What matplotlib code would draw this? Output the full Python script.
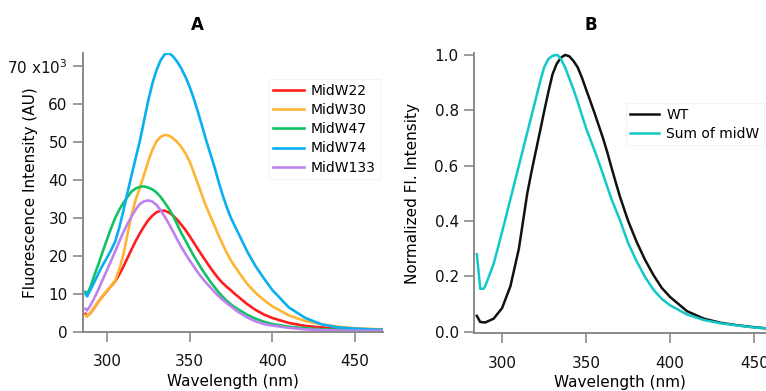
import matplotlib
matplotlib.use("Agg")
import matplotlib.pyplot as plt

plt.rcParams['font.family'] = ['DejaVu Sans']

# ---------------- Panel A data ----------------
wl_a = [287, 288, 290, 292.5, 295, 297.5, 300, 302.5, 305, 307.5, 310, 312.5, 315, 317.5,
        320, 322.5, 325, 327.5, 330, 332.5, 335, 337.5, 340, 342.5, 345, 347.5, 350, 352.5,
        355, 357.5, 360, 362.5, 365, 367.5, 370, 372.5, 375, 377.5, 380, 385, 390, 395, 400,
        410, 420, 430, 440, 450, 460, 467]
midw22 = [4.7, 4.1, 4.9, 6.4, 8.0, 9.4, 10.7, 12.0, 13.3, 15.1, 17.2, 19.5, 21.8, 24.0,
          26.0, 27.8, 29.4, 30.6, 31.5, 31.9, 31.9, 31.4, 30.6, 29.5, 28.2, 26.8, 25.2, 23.5,
          21.8, 20.1, 18.5, 16.9, 15.4, 14.0, 12.8, 11.8, 10.9, 9.9, 9.0, 7.2, 5.7, 4.5, 3.6,
          2.3, 1.5, 1.1, 0.8, 0.6, 0.5, 0.4]
midw30 = [4.3, 4.0, 5.0, 6.5, 8.0, 9.5, 10.8, 12.0, 13.5, 16.5, 20.5, 25.8, 31.0, 35.0,
          38.0, 41.5, 45.0, 48.0, 50.2, 51.4, 51.9, 51.7, 51.0, 50.0, 48.7, 47.0, 44.9, 42.0,
          39.0, 36.0, 33.0, 30.5, 28.0, 25.4, 23.0, 20.8, 18.8, 17.1, 15.5, 12.5, 10.2, 8.3, 6.7,
          4.3, 2.8, 1.9, 1.3, 0.9, 0.7, 0.6]
midw47 = [10.5, 9.8, 11.8, 15.0, 18.0, 21.2, 24.3, 27.3, 30.0, 32.2, 34.0, 35.6, 37.0, 37.8,
          38.2, 38.3, 38.0, 37.5, 36.7, 35.5, 34.0, 32.4, 30.5, 28.3, 26.0, 24.0, 22.0, 20.0,
          18.2, 16.4, 14.8, 13.2, 11.8, 10.4, 9.2, 8.1, 7.2, 6.4, 5.7, 4.4, 3.4, 2.6, 2.0,
          1.3, 0.9, 0.6, 0.5, 0.4, 0.3, 0.3]
midw74 = [10.0, 9.3, 11.0, 13.2, 15.5, 17.6, 19.5, 21.5, 23.8, 27.5, 32.0, 36.8, 41.5, 46.0,
          50.5, 55.8, 61.0, 65.5, 69.0, 71.6, 73.2, 73.5, 72.6, 71.2, 69.4, 67.2, 64.6, 61.5,
          58.0, 54.3, 50.5, 47.0, 43.5, 39.6, 36.0, 32.8, 30.0, 27.7, 25.5, 21.0, 17.2, 14.0, 11.0,
          6.4, 3.6, 1.9, 1.1, 0.8, 0.6, 0.5]
midw133 = [6.0, 5.6, 6.9, 9.0, 11.3, 13.8, 16.2, 18.7, 21.2, 23.8, 26.3, 28.5, 30.5, 32.3,
           33.7, 34.4, 34.6, 34.3, 33.4, 32.0, 30.3, 28.4, 26.4, 24.3, 22.3, 20.5, 18.8, 17.2,
           15.6, 14.2, 12.9, 11.7, 10.5, 9.4, 8.4, 7.5, 6.7, 5.8, 5.0, 3.7, 2.7, 2.0, 1.6,
           1.0, 0.6, 0.4, 0.3, 0.2, 0.2, 0.2]
series_a = [("MidW22", midw22, "#FF1E1E"),
            ("MidW30", midw30, "#FFB534"),
            ("MidW47", midw47, "#12C264"),
            ("MidW74", midw74, "#0AAFEF"),
            ("MidW133", midw133, "#BE82EE")]
xticks_a = [300, 350, 400, 450]
yticks_a = [0, 10, 20, 30, 40, 50, 60, 70]
yticklabels_a = ["0", "10", "20", "30", "40", "50", "60", r"70 x10$^{3}$"]

# ---------------- Panel B data ----------------
wl_wt = [285, 287, 290, 295, 300, 305, 310, 312.5, 315, 317.5, 320, 322.5, 325, 327.5, 330,
         332.5, 335, 337.5, 340, 342.5, 345, 347.5, 350, 352.5, 355, 357.5, 360, 362.5, 365,
         367.5, 370, 372.5, 375, 380, 385, 390, 395, 400, 410, 420, 430, 440, 450, 457]
wt = [0.057, 0.035, 0.033, 0.047, 0.085, 0.165, 0.30, 0.40, 0.50, 0.578, 0.65, 0.722, 0.795,
      0.865, 0.93, 0.968, 0.99, 1.0, 0.995, 0.978, 0.955, 0.918, 0.875, 0.833, 0.79, 0.745,
      0.70, 0.65, 0.595, 0.542, 0.49, 0.445, 0.40, 0.325, 0.26, 0.205, 0.158, 0.125, 0.074,
      0.047, 0.032, 0.023, 0.016, 0.012]
wl_sum = [285, 287, 289, 290, 295, 300, 305, 310, 315, 320, 322.5, 325, 327.5, 330, 333, 335,
          337.5, 340, 342.5, 345, 347.5, 350, 355, 360, 365, 370, 375, 380, 385, 390, 395, 400,
          410, 420, 430, 440, 450, 457]
sum_midw = [0.28, 0.155, 0.155, 0.165, 0.245, 0.36, 0.48, 0.60, 0.72, 0.84, 0.90, 0.955,
            0.985, 0.997, 1.0, 0.985, 0.955, 0.915, 0.875, 0.83, 0.782, 0.735, 0.655, 0.57,
            0.48, 0.405, 0.32, 0.255, 0.198, 0.152, 0.118, 0.095, 0.062, 0.042, 0.030, 0.022,
            0.015, 0.012]
xticks_b = [300, 350, 400, 450]
yticks_b = [0.0, 0.2, 0.4, 0.6, 0.8, 1.0]

W, H = 766, 391
fig = plt.figure(figsize=(W / 100, H / 100), dpi=100)

def px_axes(left, top, right, bottom):
    return fig.add_axes([left / W, 1 - bottom / H, (right - left) / W, (bottom - top) / H])

spine_col = "#8a8a8a"

def style(ax):
    for s in ["top", "right"]:
        ax.spines[s].set_visible(False)
    for s in ["left", "bottom"]:
        ax.spines[s].set_color(spine_col)
        ax.spines[s].set_linewidth(1.4)
    ax.tick_params(direction="out", length=7, width=1.2, color=spine_col,
                   labelsize=11, labelcolor="#111111")
    ax.tick_params(axis="x", pad=9)
    ax.tick_params(axis="y", pad=4)

axA = px_axes(83, 53, 383, 332)
for name, vals, col in series_a:
    axA.plot(wl_a, vals, color=col, lw=1.9, label=name)
axA.set_xlim(285.5, 467)
axA.set_ylim(-0.1, 73.5)
axA.set_xticks(xticks_a)
axA.set_yticks(yticks_a)
axA.set_yticklabels(yticklabels_a)
style(axA)
axA.set_xlabel("Wavelength (nm)", fontsize=11)
axA.xaxis.set_label_coords(0.5, -0.15)
axA.set_ylabel("Fluorescence Intensity (AU)", fontsize=11)
axA.yaxis.set_label_coords(-0.15, 0.5)
legA = axA.legend(loc="upper left", bbox_to_anchor=(0.597, 0.93), fontsize=10,
                  handlelength=2.2, handletextpad=0.5, labelspacing=0.38,
                  borderpad=0.3, frameon=True, fancybox=False)
legA.get_frame().set_edgecolor("#f2f2f2")
legA.get_frame().set_linewidth(0.8)

axB = px_axes(474, 53, 766, 333.3)
axB.plot(wl_wt, wt, color="#111111", lw=1.8, label="WT")
axB.plot(wl_sum, sum_midw, color="#12C8C8", lw=1.8, label="Sum of midW")
axB.set_xlim(283.3, 457)
axB.set_ylim(-0.006, 1.007)
axB.set_xticks(xticks_b)
axB.set_yticks(yticks_b)
axB.set_yticklabels([f"{v:.1f}" for v in yticks_b])
style(axB)
axB.set_xlabel("Wavelength (nm)", fontsize=11)
axB.xaxis.set_label_coords(0.5, -0.15)
axB.set_ylabel("Normalized Fl. Intensity", fontsize=11)
axB.yaxis.set_label_coords(-0.185, 0.5)
legB = axB.legend(loc="upper left", bbox_to_anchor=(0.497, 0.845), fontsize=10,
                  handlelength=2.1, handletextpad=0.5, labelspacing=0.38,
                  borderpad=0.3, frameon=True, fancybox=False)
legB.get_frame().set_edgecolor("#f2f2f2")
legB.get_frame().set_linewidth(0.8)

fig.text(197 / W, 1 - 25 / H, "A", fontsize=12, fontweight="bold", ha="center", va="center")
fig.text(591 / W, 1 - 25 / H, "B", fontsize=12, fontweight="bold", ha="center", va="center")

fig.savefig("out.png", dpi=100)
